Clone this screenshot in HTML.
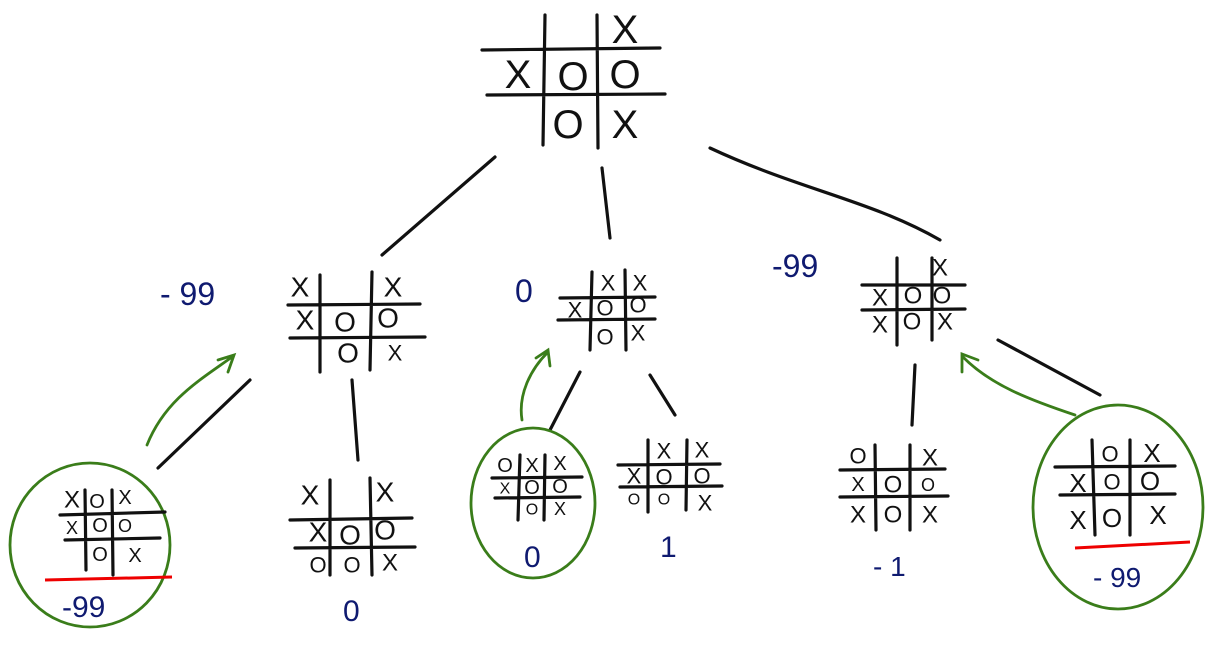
<!DOCTYPE html>
<html><head><meta charset="utf-8"><style>
html,body{margin:0;padding:0;background:#fff;}
svg{display:block}
.b{stroke:#111;stroke-width:3.2;fill:none;stroke-linecap:round}
.g{stroke:#3a7d1a;stroke-width:2.8;fill:none;stroke-linecap:round}
.lb{font-family:"Liberation Sans",sans-serif;fill:#0f1a70}
.m{font-family:"Liberation Sans",sans-serif;fill:#111;text-anchor:middle;dominant-baseline:central}
</style></head><body>
<svg width="1222" height="661" viewBox="0 0 1222 661">
<path class="b" d="M545 15 L543 145 M597 15 L598 148 M482 50 L660 48 M487 95 L665 94"/>
<g class="m" font-size="40">
<text x="625" y="30">X</text><text x="518" y="75">X</text><text x="573" y="77">O</text><text x="625" y="75">O</text><text x="568" y="125">O</text><text x="625" y="125">X</text></g>
<path class="b" d="M495 157 L382 255 M602 168 L610 238 M710 148 C800 190 870 200 940 240"/>
<path class="b" d="M320 275 L320 372 M372 272 L370 370 M288 305 L420 304 M290 338 L425 337"/>
<g class="m" font-size="28"><text x="300" y="287">X</text><text x="393" y="287">X</text><text x="305" y="320">X</text><text x="345" y="322">O</text><text x="388" y="318">O</text><text x="348" y="353">O</text><text x="395" y="353" font-size="22">X</text></g>
<text class="lb" x="160" y="305" font-size="32">- 99</text>
<path class="b" d="M592 272 L590 350 M625 270 L626 350 M560 298 L655 297 M558 320 L655 319"/>
<g class="m" font-size="22"><text x="608" y="283">X</text><text x="640" y="283">X</text><text x="575" y="310">X</text><text x="605" y="308">O</text><text x="638" y="305">O</text><text x="605" y="337">O</text><text x="638" y="333">X</text></g>
<text class="lb" x="515" y="302" font-size="32">0</text>
<path class="b" d="M897 258 L897 345 M932 258 L932 340 M862 285 L965 285 M862 310 L965 309"/>
<g class="m" font-size="24"><text x="940" y="268">X</text><text x="880" y="298">X</text><text x="913" y="296">O</text><text x="942" y="296">O</text><text x="880" y="325">X</text><text x="912" y="322">O</text><text x="945" y="322">X</text></g>
<text class="lb" x="772" y="277" font-size="32">-99</text>
<path class="b" d="M250 380 L158 468 M352 380 L358 460 M580 372 L550 430 M650 375 L675 415 M915 365 L912 425 M998 340 L1100 395"/>
<path class="g" d="M147 445 C165 400 200 380 232 357 M218 360 L234 355 L228 372"/>
<path class="g" d="M522 420 C518 395 530 370 548 352 M536 358 L548 350 L550 366"/>
<path class="g" d="M1075 415 C1030 400 990 385 962 356 M962 372 L962 354 L978 360"/>
<ellipse class="g" cx="90" cy="545" rx="80" ry="82"/>
<path class="b" d="M85 490 L86 570 M112 490 L113 575 M60 515 L165 512 M65 540 L160 538"/>
<g class="m" font-size="24"><text x="72" y="500">X</text><text x="97" y="502" font-size="20">O</text><text x="125" y="498" font-size="20">X</text><text x="72" y="528" font-size="18">X</text><text x="100" y="526" font-size="20">O</text><text x="125" y="526" font-size="18">O</text><text x="100" y="555" font-size="20">O</text><text x="135" y="556" font-size="20">X</text></g>
<path d="M45 580 L172 577" stroke="#e00" stroke-width="3" fill="none"/>
<text class="lb" x="62" y="617" font-size="30">-99</text>
<path class="b" d="M330 480 L330 575 M370 478 L372 575 M290 520 L412 518 M295 548 L415 547"/>
<g class="m" font-size="28"><text x="310" y="495">X</text><text x="385" y="492">X</text><text x="318" y="532">X</text><text x="350" y="535">O</text><text x="385" y="530">O</text><text x="318" y="565" font-size="22">O</text><text x="352" y="565" font-size="22">O</text><text x="390" y="563" font-size="24">X</text></g>
<text class="lb" x="343" y="621" font-size="30">0</text>
<ellipse class="g" cx="533" cy="503" rx="62" ry="75"/>
<path class="b" d="M520 455 L518 520 M545 455 L544 520 M492 478 L582 477 M495 498 L580 497"/>
<g class="m" font-size="20"><text x="505" y="466">O</text><text x="532" y="466">X</text><text x="560" y="464">X</text><text x="505" y="489" font-size="16">X</text><text x="532" y="488">O</text><text x="560" y="487">O</text><text x="532" y="510" font-size="16">O</text><text x="560" y="509" font-size="18">X</text></g>
<text class="lb" x="524" y="567" font-size="30">0</text>
<path class="b" d="M648 440 L648 512 M687 440 L686 510 M618 465 L720 464 M620 487 L722 486"/>
<g class="m" font-size="22"><text x="664" y="451">X</text><text x="702" y="450">X</text><text x="634" y="476">X</text><text x="664" y="477">O</text><text x="702" y="476">O</text><text x="634" y="500" font-size="16">O</text><text x="664" y="500" font-size="16">O</text><text x="705" y="503">X</text></g>
<text class="lb" x="660" y="557" font-size="30">1</text>
<path class="b" d="M875 445 L876 530 M910 445 L910 530 M840 470 L945 469 M840 497 L948 496"/>
<g class="m" font-size="24"><text x="858" y="456" font-size="22">O</text><text x="930" y="458">X</text><text x="858" y="485" font-size="20">X</text><text x="893" y="485">O</text><text x="928" y="485" font-size="18">O</text><text x="858" y="515">X</text><text x="893" y="515">O</text><text x="930" y="515">X</text></g>
<text class="lb" x="873" y="576" font-size="28">- 1</text>
<ellipse class="g" cx="1118" cy="507" rx="85" ry="102"/>
<path class="b" d="M1092 440 L1095 535 M1130 440 L1130 535 M1055 467 L1175 466 M1060 495 L1175 494"/>
<g class="m" font-size="26"><text x="1110" y="454" font-size="22">O</text><text x="1152" y="453">X</text><text x="1078" y="483">X</text><text x="1112" y="482" font-size="22">O</text><text x="1150" y="481">O</text><text x="1078" y="520">X</text><text x="1112" y="518">O</text><text x="1158" y="515">X</text></g>
<path d="M1075 548 L1190 542" stroke="#e00" stroke-width="3" fill="none"/>
<text class="lb" x="1093" y="587" font-size="28">- 99</text>
</svg>
</body></html>
